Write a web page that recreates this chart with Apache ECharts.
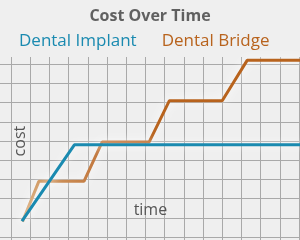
<!DOCTYPE html>
<html>
<head>
<meta charset="utf-8">
<script src="https://cdn.jsdelivr.net/npm/echarts@6/dist/echarts.min.js"></script>
<style>
  html, body { margin: 0; padding: 0; background: #efefef; }
  #chart { width: 300px; height: 240px; }
</style>
</head>
<body>
<div id="chart"></div>
<script>
// time / cost in grid-cell units
const implantTime = [0.57, 3.3, 15.2];
const implantCost = [0.83, 4.8, 4.8];
const bridgeTime = [0.6, 1.45, 3.8, 4.75, 7.2, 8.25, 11.0, 12.3, 15.2];
const bridgeCost = [0.8, 2.9, 2.9, 4.95, 4.95, 7.1, 7.1, 9.2, 9.2];

const zip = (xs, ys) => xs.map((x, i) => [x, ys[i]]);

const BLUE = "#1a8ab0";
const ORANGE = "#b8631d";
const FONT = "Open Sans";

const chart = echarts.init(document.getElementById("chart"));
chart.setOption({
  backgroundColor: "#efefef",
  animation: false,
  title: {
    text: "Cost Over Time",
    left: "center",
    top: 3,
    z: 10,
    textStyle: { color: "#606060", fontSize: 16, fontWeight: "bold", fontFamily: FONT },
  },
  legend: {
    top: 28,
    left: 9,
    z: 10,
    itemGap: 20,
    itemWidth: 0,
    itemHeight: 0,
    data: [
      { name: "Dental Implant", icon: "none", textStyle: { color: BLUE } },
      { name: "Dental Bridge", icon: "none", textStyle: { color: ORANGE } },
    ],
    textStyle: { fontSize: 17, fontFamily: FONT, padding: 0 },
  },
  grid: { left: -8.2, right: 1, top: 45, bottom: -16.2, containLabel: false, outerBoundsMode: "none" },
  xAxis: {
    type: "value",
    min: -1,
    max: 15,
    interval: 1,
    axisLine: { show: false },
    axisTick: { show: false },
    axisLabel: { show: false },
    splitLine: { lineStyle: { color: "#a9a9a9", width: 1 } },
    name: "time",
    nameLocation: "middle",
    nameGap: -54,
    nameTextStyle: {
      color: "#555", fontSize: 16, fontFamily: FONT, padding: [0, 0, 0, 10],
      textShadowColor: "#fff", textShadowBlur: 10,
    },
  },
  yAxis: {
    type: "value",
    min: -1,
    max: 10,
    interval: 1,
    axisLine: { show: false },
    axisTick: { show: false },
    axisLabel: { show: false },
    splitLine: { lineStyle: { color: "#a9a9a9", width: 1 } },
    name: "cost",
    nameLocation: "middle",
    nameRotate: 90,
    nameGap: -37,
    nameTextStyle: {
      color: "#555", fontSize: 16, fontFamily: FONT, padding: [0, 0, 0, 19],
      textShadowColor: "#fff", textShadowBlur: 10,
    },
  },
  graphic: [
    {
      type: "rect",
      z: 1,
      shape: { x: 0, y: 0, width: 300, height: 57 },
      style: { fill: "#efefef" },
    },
  ],
  series: [
    {
      name: "Dental Bridge",
      type: "line",
      data: zip(bridgeTime, bridgeCost),
      symbol: "none",
      z: 2,
      color: ORANGE,
      lineStyle: {
        width: 3,
        shadowColor: "rgba(255,255,255,0.9)",
        shadowBlur: 8,
        color: {
          type: "linear", x: 0, y: 0, x2: 1, y2: 0,
          colorStops: [
            { offset: 0, color: "#d6a46e" },
            { offset: 0.3, color: "#c0743a" },
            { offset: 0.5, color: ORANGE },
            { offset: 1, color: ORANGE },
          ],
        },
      },
    },
    {
      name: "Dental Implant",
      type: "line",
      data: zip(implantTime, implantCost),
      symbol: "none",
      z: 3,
      color: BLUE,
      lineStyle: { width: 3, color: BLUE, shadowColor: "rgba(255,255,255,0.9)", shadowBlur: 8 },
    },
  ],
});
</script>
</body>
</html>
